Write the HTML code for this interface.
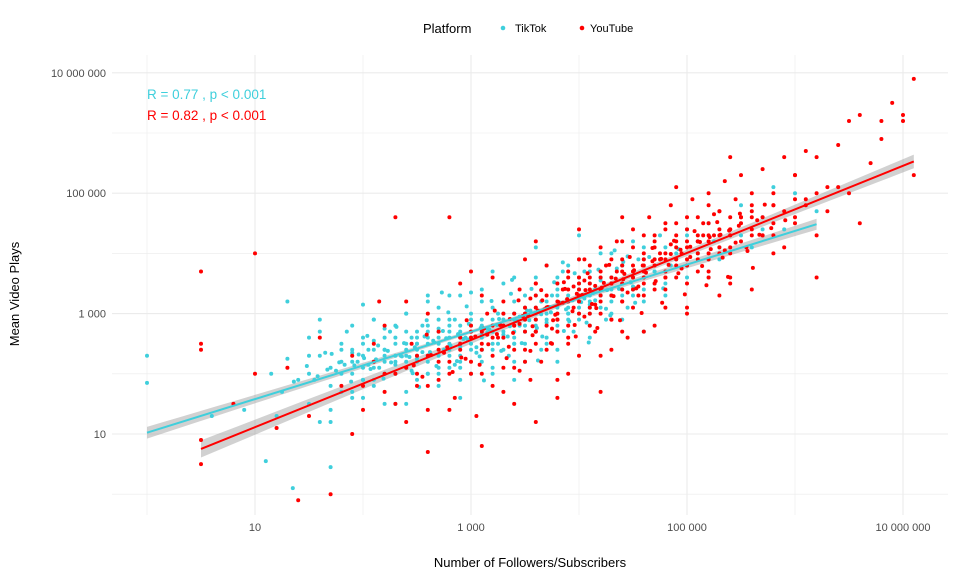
<!DOCTYPE html>
<html><head><meta charset="utf-8">
<style>
body{margin:0;background:#fff;font-family:"Liberation Sans",Arial,sans-serif;}
svg text{font-family:"Liberation Sans",Arial,sans-serif;}
</style></head>
<body>
<svg id="chart" width="960" height="576" viewBox="0 0 960 576" xmlns="http://www.w3.org/2000/svg">
<rect width="960" height="576" fill="#fff"/>
<g id="grid"></g>
<g id="bands"></g>
<g id="pts"></g>
<g id="lines"></g>
<g id="axes"></g>
<g>
<text x="423" y="33" font-size="13" fill="#000">Platform</text>
<circle cx="503" cy="28" r="2.3" fill="#3fcfdc"/>
<text x="515" y="32" font-size="11" fill="#000">TikTok</text>
<circle cx="582" cy="28" r="2.3" fill="#ff0000"/>
<text x="590" y="32" font-size="11" fill="#000">YouTube</text>
</g>
<text x="147" y="99" font-size="13.5" fill="#3fcfdc">R = 0.77 , p &lt; 0.001</text>
<text x="147" y="120" font-size="13.5" fill="#ff0000">R = 0.82 , p &lt; 0.001</text>
<text x="530" y="567" font-size="13" text-anchor="middle" fill="#000">Number of Followers/Subscribers</text>
<text transform="translate(19,294) rotate(-90)" font-size="13" text-anchor="middle" fill="#000">Mean Video Plays</text>
</svg>
<script>
// values are log10(followers), log10(mean plays)
const xTickValues=[10,1000,100000,10000000];
const xTickLabels=["10","1 000","100 000","10 000 000"];
const yTickValues=[10,1000,100000,10000000];
const yTickLabels=["10","1 000","100 000","10 000 000"];
const tiktokData=[[0,2.3],[0,1.85],[0.9,1.4],[1.1,0.55],[1.15,2.0],[1.25,1.7],[1.3,2.25],[1.35,0.1],[1.5,1.5],[1.5,2.6],[1.55,1.9],[1.6,1.2],[1.65,2.35],[1.7,1.2],[1.75,2.05],[1.8,1.7],[1.85,2.7],[1.9,1.6],[1.95,2.2],[2.0,2.5],[2.0,1.9],[2.05,2.4],[2.1,1.8],[2.1,2.9],[2.15,2.1],[2.2,2.4],[2.2,2.0],[2.25,2.7],[2.3,2.6],[2.3,1.5],[2.35,2.3],[2.4,2.2],[2.4,3.0],[2.45,2.05],[2.5,2.5],[2.5,1.9],[2.55,2.8],[2.6,2.7],[2.6,2.3],[2.65,2.55],[2.7,2.0],[2.7,3.1],[2.75,2.4],[2.8,2.5],[2.8,2.8],[2.85,2.15],[2.9,2.2],[2.9,3.3],[2.95,2.6],[3.0,2.6],[3.0,2.0],[3.0,2.9],[3.05,2.35],[3.1,2.4],[3.1,3.2],[3.15,2.75],[3.2,2.7],[3.2,2.1],[3.25,2.5],[3.3,2.9],[3.3,3.5],[3.35,2.3],[3.4,2.5],[3.4,3.0],[3.45,2.8],[3.5,3.3],[3.5,2.7],[3.55,3.05],[3.6,2.9],[3.6,3.6],[3.65,2.4],[3.7,3.1],[3.7,2.5],[3.75,3.3],[3.8,3.4],[3.8,2.9],[3.85,3.7],[3.9,3.2],[3.9,3.8],[3.95,2.7],[4.0,3.0],[4.0,3.5],[4.05,3.25],[4.1,2.8],[4.1,3.7],[4.15,3.4],[4.2,3.3],[4.2,4.0],[4.25,2.9],[4.3,3.5],[4.3,3.0],[4.35,3.75],[4.4,3.8],[4.4,3.4],[4.45,3.1],[4.5,3.6],[4.5,4.2],[4.55,3.9],[4.6,3.2],[4.6,3.9],[4.7,3.7],[4.75,4.3],[4.8,4.1],[4.8,3.5],[4.9,3.9],[5.0,4.3],[5.0,3.6],[5.1,4.0],[5.2,4.5],[5.3,3.9],[5.4,4.3],[5.5,4.8],[5.6,4.1],[5.7,4.6],[5.9,4.4],[6.0,5.0],[6.2,4.7],[1.3,3.2],[1.6,2.9],[2.0,3.15],[2.4,1.5],[2.6,3.3],[2.9,1.6],[3.2,3.7],[3.4,1.9],[3.6,4.1],[3.8,2.2],[4.0,4.3],[4.6,2.7],[1.9,2.35],[2.1,2.55],[2.3,2.15],[2.5,2.25],[2.7,2.75],[2.9,2.45],[3.1,2.65],[3.3,2.65],[3.5,2.95],[3.7,2.85],[3.9,3.0],[4.1,3.15],[4.3,3.3],[4.5,3.45],[2.2,2.75],[2.6,2.0],[3.0,3.35],[3.4,2.2],[3.8,3.6],[4.2,3.55],[1.8,2.4],[2.05,2.15],[2.45,2.6],[2.85,2.9],[3.25,3.0],[3.65,3.2],[4.05,3.7],[4.45,3.95],[4.85,3.8],[5.25,4.2],[1.2,1.3],[1.7,0.45],[0.6,1.3],[5.8,5.1]];
// extra TikTok points, in tenths of log10 units
const tiktokExtra=[[15,20],[16,23],[17,18],[18,22],[18,25],[19,20],[19,17],[20,23],[20,26],[21,21],[21,19],[22,24],[22,22],[23,20],[23,25],[23,28],[24,23],[24,21],[25,24],[25,27],[25,22],[26,25],[26,20],[26,28],[27,23],[27,26],[27,29],[28,24],[28,21],[28,27],[29,25],[29,28],[29,23],[30,27],[30,24],[30,30],[31,26],[31,29],[31,22],[32,28],[32,25],[32,31],[33,27],[33,24],[33,30],[34,29],[34,26],[34,32],[35,28],[35,25],[35,31],[36,30],[36,27],[36,33],[37,29],[37,32],[37,26],[38,31],[38,28],[38,35],[39,30],[39,33],[40,32],[40,29],[40,36],[41,33],[41,31],[42,34],[42,31],[43,36],[43,32],[44,35],[44,38],[45,34],[45,37],[46,36],[47,35],[47,39],[48,37],[49,40],[50,38],[51,42],[52,39],[53,41],[55,43],[57,44],[16,27],[17,14],[19,28],[20,16],[21,29],[22,15],[24,30],[24,17],[26,32],[27,18],[28,33],[29,19],[31,34],[32,20],[34,36],[35,22],[37,38],[38,24],[40,39],[41,26],[43,40],[44,29],[46,41],[48,33],[50,44],[52,36],[18,20],[19,22],[20,21],[21,24],[22,20],[22,26],[23,23],[24,25],[24,27],[25,23],[25,25],[26,23],[26,26],[27,25],[27,21],[28,26],[28,29],[29,26],[29,21],[30,25],[30,28],[31,27],[31,24],[32,27],[32,29],[33,28],[33,26],[34,27],[34,30],[35,30],[35,27],[36,29],[36,31],[37,30],[37,28],[38,30],[38,33],[39,32],[39,29],[40,31],[40,34],[41,30],[41,35],[42,33],[42,36],[43,34],[44,33],[45,36],[46,34],[47,37],[14,19],[15,23],[17,21],[19,24],[21,22],[23,22],[25,26],[27,27],[29,27],[31,28],[33,29],[35,29],[20,19],[22,23],[24,24],[26,22],[28,23],[30,26],[32,24],[34,25],[36,28],[38,27],[39,31],[41,32],[43,33],[45,33]];
// more TikTok points, in hundredths of log10 units
const tiktokFine=[[183,215],[196,232],[207,208],[214,247],[226,219],[238,251],[243,228],[257,262],[262,236],[274,271],[281,247],[293,258],[298,283],[305,244],[317,274],[326,291],[334,262],[343,288],[352,305],[361,276],[374,302],[383,318],[391,287],[402,319],[413,334],[425,308],[437,341],[448,352],[158,196],[171,233],[189,187],[204,263],[219,192],[231,278],[246,201],[259,289],[268,213],[279,302],[287,221],[296,312],[308,229],[319,321],[328,238],[337,333],[347,251],[356,341],[366,262],[377,352],[386,271],[396,367],[407,285],[418,373],[429,297],[441,386],[452,318],[465,394],[478,342],[492,407],[212,224],[223,238],[236,229],[248,244],[255,236],[266,252],[277,259],[288,266],[297,257],[309,276],[315,268],[324,281],[336,279],[345,295],[354,289],[365,299],[373,311],[388,307],[394,322],[406,331],[415,322],[426,339],[167,207],[178,219],[192,214],[201,226],[148,213],[136,187],[252,178],[273,335],[312,189],[338,356],[362,222],[385,385],[409,252],[433,405]];
const youtubeData=[[0.5,0.9],[0.5,0.5],[0.5,2.5],[0.5,2.4],[0.5,3.7],[0.8,1.5],[1.0,4.0],[1.0,2.0],[1.2,1.1],[1.3,2.1],[1.4,-0.1],[1.5,1.3],[1.6,2.6],[1.7,0.0],[1.8,1.8],[1.9,2.3],[2.0,1.4],[2.1,2.2],[2.15,3.2],[2.2,1.7],[2.3,2.0],[2.3,4.6],[2.4,1.2],[2.45,2.5],[2.5,1.8],[2.6,2.3],[2.6,1.4],[2.7,2.7],[2.7,1.9],[2.8,4.6],[2.8,2.2],[2.85,1.6],[2.9,2.5],[3.0,2.0],[3.0,2.8],[3.05,1.3],[3.1,2.4],[3.15,3.0],[3.2,1.8],[3.25,2.6],[3.3,3.2],[3.3,2.1],[3.4,2.8],[3.4,1.5],[3.45,3.4],[3.5,2.4],[3.5,3.0],[3.55,1.9],[3.6,2.7],[3.6,3.5],[3.65,2.2],[3.7,3.1],[3.7,3.8],[3.75,2.5],[3.8,2.9],[3.8,1.6],[3.85,3.4],[3.9,3.7],[3.9,2.6],[3.95,3.1],[4.0,3.5],[4.0,2.3],[4.05,3.9],[4.1,3.0],[4.1,3.6],[4.15,2.7],[4.2,3.3],[4.2,4.1],[4.25,3.8],[4.3,2.9],[4.3,3.5],[4.35,4.2],[4.4,3.2],[4.4,3.9],[4.45,2.6],[4.5,3.6],[4.5,4.4],[4.55,3.3],[4.6,4.0],[4.6,3.7],[4.65,4.6],[4.7,3.4],[4.7,4.2],[4.75,3.9],[4.8,4.5],[4.8,3.1],[4.85,4.8],[4.9,3.8],[4.9,4.3],[4.95,4.0],[5.0,4.6],[5.0,3.5],[5.05,4.9],[5.1,4.2],[5.1,3.9],[5.15,4.5],[5.2,5.0],[5.2,3.7],[5.25,4.3],[5.3,4.7],[5.3,4.0],[5.35,5.2],[5.4,4.4],[5.4,3.6],[5.45,4.9],[5.5,4.6],[5.5,5.3],[5.55,4.1],[5.6,4.8],[5.7,5.4],[5.7,4.3],[5.8,5.0],[5.9,5.6],[5.9,4.1],[6.0,5.3],[6.1,4.9],[6.1,5.7],[6.2,3.6],[6.3,5.1],[6.4,5.8],[6.6,4.5],[6.7,5.5],[6.8,5.9],[6.9,6.5],[7.0,6.2],[7.0,6.3],[7.1,6.9],[7.1,5.3],[6.6,6.3],[6.8,6.2],[3.9,2.0],[4.3,2.4],[4.7,2.8],[5.0,3.0],[3.6,4.2],[4.0,4.4],[3.2,3.6],[2.9,3.5],[2.4,3.2],[2.2,2.8],[1.9,1.0],[2.6,0.7],[3.1,0.8],[3.6,1.2],[4.2,1.7],[3.5,3.9],[3.0,3.7],[4.8,3.6],[5.3,3.3],[5.6,3.4],[6.0,4.5],[6.2,5.6],[5.8,4.8],[4.4,4.6],[4.9,5.1],[5.4,5.6],[6.5,6.2],[3.35,2.45],[3.75,2.75],[4.15,3.15],[4.55,3.45],[4.95,3.75],[5.35,4.05],[3.55,3.25],[3.95,3.45],[4.35,3.7],[4.75,4.0],[5.15,4.3],[2.75,2.35],[3.15,2.65],[2.55,1.95],[2.95,2.25],[3.45,2.05],[4.05,2.95],[4.45,3.35],[4.85,4.15],[5.25,4.65],[5.65,4.55]];
// extra YouTube points, in tenths of log10 units
const youtubeExtra=[[20,18],[22,20],[24,21],[25,23],[26,18],[27,24],[28,20],[29,26],[30,22],[30,27],[31,25],[31,20],[32,28],[32,23],[33,26],[33,30],[34,24],[34,28],[35,27],[35,31],[35,22],[36,29],[36,25],[37,28],[37,33],[37,24],[38,30],[38,27],[39,32],[39,28],[39,25],[40,33],[40,30],[40,36],[41,31],[41,28],[41,35],[42,34],[42,30],[42,37],[43,33],[43,36],[43,29],[44,35],[44,32],[44,38],[45,34],[45,37],[45,31],[46,36],[46,39],[46,33],[47,35],[47,38],[47,41],[48,37],[48,40],[48,34],[49,39],[49,42],[49,36],[50,38],[50,41],[50,44],[51,40],[51,43],[51,37],[52,42],[52,45],[52,39],[53,41],[53,44],[54,43],[54,46],[54,40],[55,45],[55,42],[56,44],[56,47],[57,46],[57,43],[58,45],[58,48],[59,47],[60,46],[60,49],[61,48],[62,50],[63,47],[64,51],[65,50],[21,25],[23,15],[26,30],[28,14],[31,33],[33,17],[36,35],[38,19],[40,39],[42,23],[44,42],[46,27],[48,44],[50,31],[52,48],[54,35],[56,50],[58,40],[60,53],[62,43],[34,21],[36,33],[38,35],[44,27],[46,43],[52,36],[30,26],[32,26],[33,28],[34,30],[35,29],[36,31],[37,31],[38,32],[39,34],[40,34],[41,34],[42,36],[43,35],[44,37],[45,38],[46,38],[47,39],[48,39],[49,41],[50,42],[51,42],[52,43],[53,43],[54,44],[55,46],[56,46],[29,24],[31,27],[27,22],[25,20],[36,27],[38,29],[40,32],[42,32],[44,34],[46,35],[48,36],[50,39],[52,40],[54,41],[56,43],[58,43],[39,36],[41,38],[43,39],[45,41],[47,43],[49,45],[51,46],[53,47]];
// more YouTube points, in hundredths of log10 units
const youtubeFine=[[263,231],[278,244],[291,227],[304,262],[316,249],[327,281],[339,268],[348,296],[357,279],[368,307],[376,289],[385,318],[394,304],[403,331],[412,316],[421,343],[432,329],[441,357],[453,342],[462,368],[471,354],[483,381],[492,367],[503,394],[514,379],[522,407],[533,393],[545,418],[556,404],[567,431],[578,442],[591,455],[247,214],[259,265],[283,203],[296,289],[308,215],[322,305],[333,226],[344,322],[355,238],[365,339],[374,251],[386,352],[397,262],[408,367],[417,276],[428,381],[438,289],[447,394],[458,301],[468,409],[477,318],[488,421],[498,332],[507,437],[518,347],[528,452],[538,361],[549,466],[561,376],[572,481],[353,297],[362,305],[371,311],[381,319],[389,324],[398,333],[406,339],[415,346],[423,351],[434,358],[442,366],[451,372],[459,380],[468,387],[476,391],[485,399],[494,406],[503,411],[512,419],[521,427],[531,431],[539,438],[548,446],[312,275],[324,266],[336,291],[345,283],[357,264],[366,322],[378,298],[387,341],[396,281],[405,355],[416,309]];

const X0=147, XS=108, Y1=434, YS=60.2;
function xs(l){return X0+l*XS;}
function ys(l){return Y1-(l-1)*YS;}
const NS="http://www.w3.org/2000/svg";
function mk(tag,attrs,parent){const e=document.createElementNS(NS,tag);for(const k in attrs)e.setAttribute(k,attrs[k]);parent.appendChild(e);return e;}
const grid=document.getElementById('grid'),axes=document.getElementById('axes');
for(let l=0;l<=8;l++){
  const x=xs(l);
  if(x>112&&x<948){const g=mk('line',{x1:x,x2:x,y1:55,y2:515,stroke:'#ebebeb','stroke-width':l%2?1.1:0.6},grid);
  
  }
  const y=ys(l);
  if(y>55&&y<515){const g2=mk('line',{x1:112,x2:948,y1:y,y2:y,stroke:'#ebebeb','stroke-width':l%2?1.1:0.6},grid);
  
  }
}
xTickValues.forEach((v,i)=>{const t=mk('text',{x:xs(Math.log10(v)),y:531,'font-size':11,'text-anchor':'middle',fill:'#4d4d4d'},axes);t.textContent=xTickLabels[i];

});
yTickValues.forEach((v,i)=>{const t=mk('text',{x:106,y:ys(Math.log10(v))+4,'font-size':11,'text-anchor':'end',fill:'#4d4d4d'},axes);t.textContent=yTickLabels[i];

});

const pts=document.getElementById('pts'),bands=document.getElementById('bands'),lines=document.getElementById('lines');
function series(data,color,name){
  data.forEach(d=>{const c=mk('circle',{cx:xs(d[0]),cy:ys(d[1]),r:2,fill:color},pts);
  
  });
  const n=data.length;let mx=0,my=0;data.forEach(d=>{mx+=d[0];my+=d[1];});mx/=n;my/=n;
  let sxx=0,sxy=0;data.forEach(d=>{sxx+=(d[0]-mx)**2;sxy+=(d[0]-mx)*(d[1]-my);});
  const b=sxy/sxx,a=my-b*mx;let ss=0;data.forEach(d=>{ss+=(d[1]-a-b*d[0])**2;});
  const s=Math.sqrt(ss/(n-2));
  const xmin=Math.min(...data.map(d=>d[0])),xmax=Math.max(...data.map(d=>d[0]));
  const up=[],lo=[];
  for(let i=0;i<=40;i++){const x=xmin+(xmax-xmin)*i/40;const se=1.96*s*Math.sqrt(1/n+(x-mx)**2/sxx)*0.8;const y=a+b*x;up.push(xs(x)+','+ys(y+se));lo.unshift(xs(x)+','+ys(y-se));}
  const p=mk('polygon',{points:up.concat(lo).join(' '),fill:'#999',opacity:0.45},bands);
  
  
  const l=mk('line',{x1:xs(xmin),y1:ys(a+b*xmin),x2:xs(xmax),y2:ys(a+b*xmax),stroke:color,'stroke-width':2},lines);
  
  
}
const tiktokAll=tiktokData.concat(tiktokExtra.map(d=>[d[0]/10,d[1]/10]),tiktokFine.map(d=>[d[0]/100,d[1]/100]));
const youtubeAll=youtubeData.concat(youtubeExtra.map(d=>[d[0]/10,d[1]/10]),youtubeFine.map(d=>[d[0]/100,d[1]/100]));
series(tiktokAll,'#3fcfdc','tiktok');
series(youtubeAll,'#ff0000','youtube');
</script>
</body></html>
